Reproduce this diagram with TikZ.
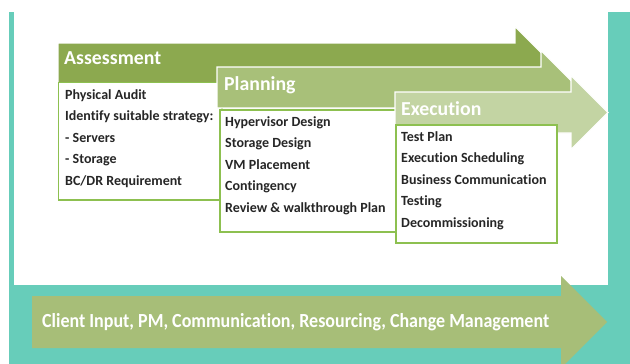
\documentclass[tikz,border=0pt]{standalone}
\usepackage{fontspec}
\setmainfont{Carlito}[Ligatures=NoCommon]
\newfontfamily\bandfont[FakeStretch=0.9,Ligatures=NoCommon]{Carlito}
\usepackage{xcolor}
\usetikzlibrary{calc}
\definecolor{framebg}{HTML}{67CDBA}
\definecolor{assess}{HTML}{8CA94F}
\definecolor{plan}{HTML}{A8C079}
\definecolor{execc}{HTML}{C3D4A3}
\definecolor{band}{HTML}{A7BE78}
\definecolor{boxline}{HTML}{8DC050}
\definecolor{ink}{HTML}{262626}
\tikzset{
  phase/.style={draw=white, line width=1.2pt, line join=miter},
  listbox/.style={draw=boxline, fill=white, line width=1.5pt},
  head/.style={text=white, font=\fontsize{19.8}{22}\selectfont\bfseries, inner sep=0pt, anchor=west},
  items/.style={text=ink, font=\fontsize{14}{21.6}\selectfont\bfseries, align=left, inner sep=0pt, anchor=north west},
  bandtext/.style={text=white, font=\bandfont\fontsize{20}{22}\selectfont\bfseries, inner sep=0pt, anchor=west}
}

\begin{document}
\begin{tikzpicture}[x=1pt,y=-1pt]
  \useasboundingbox (0,0) rectangle (630,364);
  \fill[white] (0,0) rectangle (630,364);
  % frame
  \fill[framebg] (9,12) rectangle (630,364);
  \fill[white] (14,12) rectangle (608,285);

  % assessment
  \draw[phase, fill=assess] (58,43) -- (515,43) -- (515,26.5) -- (552,63.5)
    -- (515,100.5) -- (515,84) -- (58,84) -- cycle;
  \node[head] (assessT) at (64,58) {Assessment};
  \draw[listbox] (58.5,82.5) rectangle (222,200);
  \node[items] (assessL) at (65,89) {Physical Audit\\Identify suitable strategy:\\- Servers\\- Storage\\BC/DR Requirement};

  % planning
  \draw[phase, fill=plan] (217,67) -- (541,67) -- (541,50.5) -- (578,87.5)
    -- (541,124.5) -- (541,108) -- (217,108) -- cycle;
  \node[head] (planT) at (224,85) {Planning};
  \draw[listbox] (220,110) rectangle (396,232);
  \node[items] (planL) at (225,116) {Hypervisor Design\\Storage Design\\VM Placement\\Contingency\\Review \& walkthrough Plan};

  % execution
  \draw[phase, fill=execc] (395,92) -- (571,92) -- (571,75.5) -- (608,112.5)
    -- (571,149.5) -- (571,133) -- (395,133) -- cycle;
  \node[head] (execT) at (401,108.5) {Execution};
  \draw[listbox] (396,125) rectangle (557,243);
  \node[items] (execL) at (401,131) {Test Plan\\Execution Scheduling\\Business Communication\\Testing\\Decommissioning};

  % ongoing band
  \fill[band] (32,296) -- (561,296) -- (561,276) -- (607,322) -- (561,368)
    -- (561,348) -- (32,348) -- cycle;
  \node[bandtext] (bandT) at (42,322) {Client Input, PM, Communication, Resourcing, Change Management};
\end{tikzpicture}
\end{document}
